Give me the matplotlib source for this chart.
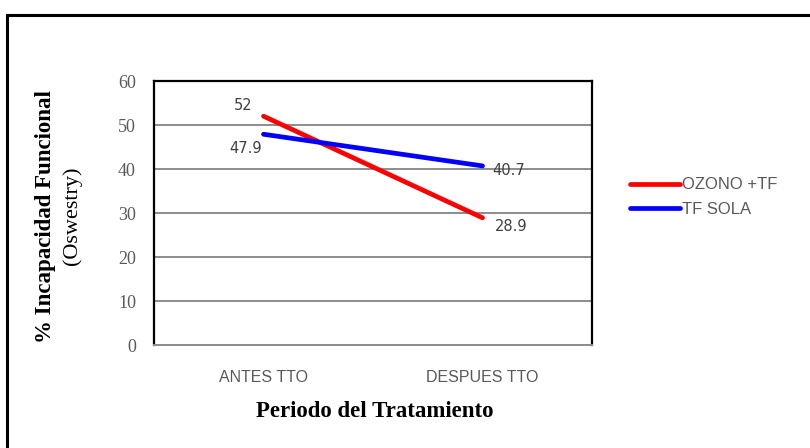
import matplotlib.pyplot as plt
from matplotlib.patches import Rectangle

# data
periods = ['ANTES TTO', 'DESPUES TTO']
ozono_tf = [52, 28.9]
tf_sola = [47.9, 40.7]
series_names = ['OZONO +TF', 'TF SOLA']
yticks = [0, 10, 20, 30, 40, 50, 60]

sans = ['Liberation Sans', 'DejaVu Sans']
serif = ['Liberation Serif', 'DejaVu Serif']
tick_color = '#595959'

fig = plt.figure(figsize=(8.1, 4.48), dpi=100)

# outer frame of the chart area
fig.patches.append(Rectangle((7 / 810, -0.05), 1.2, 1 - 15 / 448 + 0.05,
                             transform=fig.transFigure, fill=False,
                             edgecolor='black', linewidth=2.2))

ax = fig.add_axes([154 / 810, 1 - 345 / 448, 438 / 810, 264 / 448])

x = list(range(len(periods)))
ax.plot(x, ozono_tf, color='#ff0000', linewidth=3.4, solid_capstyle='round',
        label=series_names[0], zorder=3)
ax.plot(x, tf_sola, color='#0000ff', linewidth=3.4, solid_capstyle='round',
        label=series_names[1], zorder=3)

# data labels
lab = dict(fontsize=10.5, color='#404040', family=['DejaVu Sans'])
ax.annotate(f'{ozono_tf[0]:g}', (x[0], ozono_tf[0]), textcoords='offset points',
            xytext=(-15, 8), ha='center', va='center', **lab)
ax.annotate(f'{tf_sola[0]:g}', (x[0], tf_sola[0]), textcoords='offset points',
            xytext=(-13, -10), ha='center', va='center', **lab)
ax.annotate(f'{tf_sola[1]:g}', (x[1], tf_sola[1]), textcoords='offset points',
            xytext=(19, -3), ha='center', va='center', **lab)
ax.annotate(f'{ozono_tf[1]:g}', (x[1], ozono_tf[1]), textcoords='offset points',
            xytext=(21, -6.5), ha='center', va='center', **lab)

ax.set_xlim(-0.5, 1.5)
ax.set_ylim(0, 60)
ax.set_yticks(yticks)
ax.set_xticks(x)
ax.set_xticklabels(periods)
ax.grid(axis='y', color='#8c8c8c', linewidth=1.4, zorder=0)
ax.tick_params(length=0, labelcolor=tick_color)
ax.tick_params(axis='x', pad=18, labelsize=11.5)
ax.tick_params(axis='y', pad=13, labelsize=13)
for lbl in ax.get_xticklabels():
    lbl.set_family(sans)
for lbl in ax.get_yticklabels():
    lbl.set_family(serif)
for side in ['left', 'top', 'right']:
    ax.spines[side].set_color('black')
    ax.spines[side].set_linewidth(1.6)
ax.spines['bottom'].set_color('#8c8c8c')
ax.spines['bottom'].set_linewidth(1.4)

# axis titles
fig.text(375 / 810, 1 - 411 / 448, 'Periodo del Tratamiento', ha='center',
         va='center', fontsize=16.5, fontweight='bold', family=serif)
fig.text(46 / 810, 1 - 216 / 448, '% Incapacidad Funcional', rotation=90,
         ha='center', va='center', fontsize=16.5, fontweight='bold', family=serif)
fig.text(72 / 810, 1 - 216 / 448, '(Oswestry)', rotation=90,
         ha='center', va='center', fontsize=16, family=serif)

leg = fig.legend(loc='center left', bbox_to_anchor=(615 / 810, 1 - 197 / 448),
                 frameon=False, handlelength=3.0, handletextpad=0.15,
                 labelspacing=0.55, prop={'family': sans, 'size': 12})
for t in leg.get_texts():
    t.set_color(tick_color)

fig.savefig('out.png', dpi=100)
